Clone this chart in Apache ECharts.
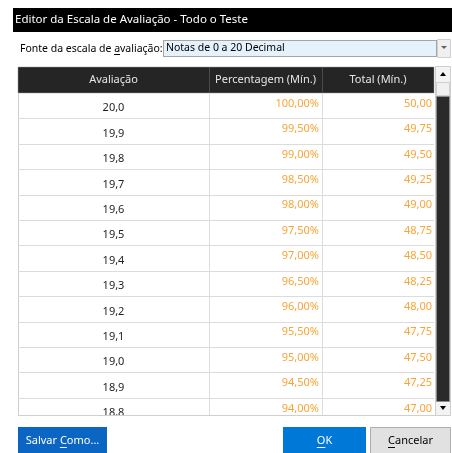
<!DOCTYPE html>
<html>
<head>
    <meta charset="utf-8">
    <title>Editor da Escala de Avaliação</title>
    <script src="https://cdn.jsdelivr.net/npm/echarts@6/dist/echarts.min.js"></script>
    <style>
        body { margin: 0; background: #fff; }
        #main { width: 452px; height: 453px; }
    </style>
</head>
<body>
    <div id="main"></div>
    <script>
        // valores da escala (linhas visíveis)
        var grades = ['20,0', '19,9', '19,8', '19,7', '19,6', '19,5', '19,4', '19,3', '19,2', '19,1', '19,0', '18,9', '18,8'];
        var percents = [100, 99.5, 99, 98.5, 98, 97.5, 97, 96.5, 96, 95.5, 95, 94.5, 94];
        var totals = [50, 49.75, 49.5, 49.25, 49, 48.75, 48.5, 48.25, 48, 47.75, 47.5, 47.25, 47];
        var headers = ['Avaliação', 'Percentagem (Mín.)', 'Total (Mín.)'];

        var FONT = '"Noto Sans", sans-serif';
        var colEdges = [0, 191, 304, 416];   // colunas, em px da tabela
        var rowH = 25.4;
        var gridH = 322;

        function fmt(v) { return v.toFixed(2).replace('.', ','); }

        // medir texto para sublinhar a letra de atalho
        var ctx = document.createElement('canvas').getContext('2d');
        function measure(t, font) { ctx.font = font; return ctx.measureText(t).width; }
        function underline(text, idx, x, y, font, align, color) {
            var full = measure(text, font);
            var start = align === 'center' ? x - full / 2 : x;
            var x1 = start + measure(text.slice(0, idx), font);
            var x2 = x1 + measure(text.charAt(idx), font);
            return { type: 'line', shape: { x1: x1, y1: y + 0.5, x2: x2, y2: y + 0.5 }, style: { stroke: color, lineWidth: 1 } };
        }

        var chart = echarts.init(document.getElementById('main'));

        var f11 = '11px ' + FONT;
        var lblFont = '10.5px ' + FONT;

        var graphics = [
            // barra de título
            { type: 'rect', shape: { x: 13, y: 8, width: 439, height: 24 }, style: { fill: '#000' } },
            { type: 'text', x: 15, y: 20, style: { text: 'Editor da Escala de Avaliação - Todo o Teste', fill: '#fff', font: '11.5px ' + FONT, verticalAlign: 'middle' } },
            // fonte da escala
            { type: 'text', x: 20, y: 49, style: { text: 'Fonte da escala de avaliação:', fill: '#000', font: lblFont, verticalAlign: 'middle' } },
            underline('Fonte da escala de avaliação:', 19, 20, 54, lblFont, 'left', '#000'),
            { type: 'rect', shape: { x: 163.5, y: 40.5, width: 273, height: 16 }, style: { fill: '#e5f1fb', stroke: '#555', lineWidth: 1, lineDash: [1, 1] } },
            { type: 'text', x: 166, y: 48, style: { text: 'Notas de 0 a 20 Decimal', fill: '#000', font: lblFont, verticalAlign: 'middle' } },
            { type: 'rect', shape: { x: 437.5, y: 39.5, width: 13, height: 18 }, style: { fill: '#f0f0f0', stroke: '#cfcfcf' } },
            { type: 'polygon', shape: { points: [[441, 46], [447, 46], [444, 49]] }, style: { fill: '#606060' } },
            // cabeçalho da tabela
            { type: 'rect', shape: { x: 18, y: 67, width: 416, height: 26 }, style: { fill: '#252525', stroke: '#9a9a9a', lineWidth: 0.5 } },
            { type: 'line', shape: { x1: 209.5, y1: 67, x2: 209.5, y2: 93 }, style: { stroke: '#4a4a4a' } },
            { type: 'line', shape: { x1: 322.5, y1: 67, x2: 322.5, y2: 93 }, style: { stroke: '#4a4a4a' } },
            // borda da tabela
            { type: 'line', shape: { x1: 18.5, y1: 93, x2: 18.5, y2: 415 }, style: { stroke: '#cfcfcf' } },
            { type: 'line', shape: { x1: 18, y1: 415.5, x2: 436, y2: 415.5 }, style: { stroke: '#cfcfcf' } },
            // barra de rolagem
            { type: 'rect', shape: { x: 435.5, y: 66.5, width: 15, height: 349 }, style: { fill: '#f0f0f0', stroke: '#cfcfcf' } },
            { type: 'rect', shape: { x: 436, y: 67, width: 14, height: 14 }, style: { fill: '#f3f3f3' } },
            { type: 'polygon', shape: { points: [[440, 76], [446, 76], [443, 72]] }, style: { fill: '#000' } },
            { type: 'rect', shape: { x: 436.5, y: 82.5, width: 13, height: 13 }, style: { fill: '#f0f0f0', stroke: '#d0d0d0' } },
            { type: 'rect', shape: { x: 436.5, y: 96.5, width: 13, height: 305 }, style: { fill: '#2a2a2a', stroke: '#8a8a8a' } },
            { type: 'rect', shape: { x: 436, y: 402, width: 14, height: 13 }, style: { fill: '#f3f3f3' } },
            { type: 'polygon', shape: { points: [[440, 406], [446, 406], [443, 410]] }, style: { fill: '#000' } },
            // botões
            { type: 'rect', shape: { x: 18, y: 427, width: 89, height: 30 }, style: { fill: '#0a66c2' } },
            { type: 'text', x: 62.5, y: 441, style: { text: 'Salvar Como...', fill: '#fff', font: f11, align: 'center', verticalAlign: 'middle' } },
            underline('Salvar Como...', 7, 62.5, 447, f11, 'center', '#fff'),
            { type: 'rect', shape: { x: 283, y: 427, width: 83, height: 30 }, style: { fill: '#0078d7' } },
            { type: 'text', x: 324.5, y: 441, style: { text: 'OK', fill: '#fff', font: f11, align: 'center', verticalAlign: 'middle' } },
            underline('OK', 0, 324.5, 447, f11, 'center', '#fff'),
            { type: 'rect', shape: { x: 370.5, y: 427.5, width: 80, height: 30 }, style: { fill: '#e1e1e1', stroke: '#adadad' } },
            { type: 'text', x: 410.5, y: 441, style: { text: 'Cancelar', fill: '#000', font: f11, align: 'center', verticalAlign: 'middle' } },
            underline('Cancelar', 0, 410.5, 447, f11, 'center', '#000')
        ];

        headers.forEach(function (h, i) {
            graphics.push({
                type: 'text',
                x: 18 + (colEdges[i] + colEdges[i + 1]) / 2,
                y: 80,
                style: { text: h, fill: '#e6e6e6', font: f11, align: 'center', verticalAlign: 'middle' }
            });
        });

        function renderRow(params, api) {
            var i = api.value(0);
            var top = api.coord([0, i]);
            var bot = api.coord([colEdges[3], i + 1]);
            var mid = (top[1] + bot[1]) / 2;
            var c1 = api.coord([(colEdges[0] + colEdges[1]) / 2, i]);
            var c2 = api.coord([colEdges[2] - 3, i]);
            var c3 = api.coord([colEdges[3] - 2, i]);
            var v1 = api.coord([colEdges[1], i]);
            var v2 = api.coord([colEdges[2], i]);
            var lineStyle = { stroke: '#dcdcdc', lineWidth: 1 };
            return {
                type: 'group',
                children: [
                    { type: 'line', shape: { x1: top[0], y1: Math.round(bot[1]) + 0.5, x2: bot[0], y2: Math.round(bot[1]) + 0.5 }, style: lineStyle },
                    { type: 'line', shape: { x1: v1[0] + 0.5, y1: top[1], x2: v1[0] + 0.5, y2: bot[1] }, style: lineStyle },
                    { type: 'line', shape: { x1: v2[0] + 0.5, y1: top[1], x2: v2[0] + 0.5, y2: bot[1] }, style: lineStyle },
                    { type: 'text', x: c1[0], y: mid + 2.5, style: { text: grades[i], fill: '#1e1e1e', font: f11, align: 'center', verticalAlign: 'middle' } },
                    { type: 'text', x: c2[0], y: mid - 2, style: { text: fmt(percents[i]) + '%', fill: '#f7a538', font: f11, align: 'right', verticalAlign: 'middle' } },
                    { type: 'text', x: c3[0], y: mid - 2, style: { text: fmt(totals[i]), fill: '#f7a538', font: f11, align: 'right', verticalAlign: 'middle' } }
                ]
            };
        }

        var option = {
            animation: false,
            grid: { left: 18, top: 93, width: colEdges[3], height: gridH },
            xAxis: { type: 'value', min: 0, max: colEdges[3], show: false },
            yAxis: { type: 'value', min: 0, max: gridH / rowH, inverse: true, show: false },
            graphic: graphics,
            series: [{
                type: 'custom',
                clip: true,
                renderItem: renderRow,
                data: grades.map(function (g, i) { return [i]; })
            }]
        };

        chart.setOption(option);
    </script>
</body>
</html>
